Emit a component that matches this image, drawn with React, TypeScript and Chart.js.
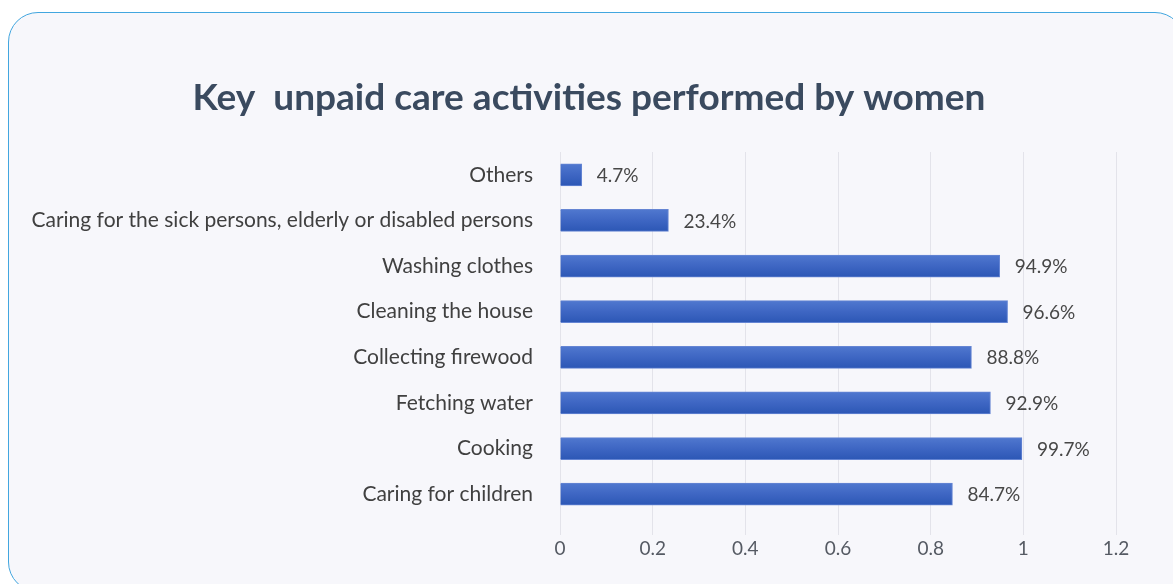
import React, { useEffect, useRef } from "react";
import { Chart, registerables } from "chart.js";

Chart.register(...registerables);

const TITLE = "Key  unpaid care activities performed by women";
const categories = [
  "Others",
  "Caring for the sick persons, elderly or disabled persons",
  "Washing clothes",
  "Cleaning the house",
  "Collecting firewood",
  "Fetching water",
  "Cooking",
  "Caring for children",
];
const values = [0.047, 0.234, 0.949, 0.966, 0.888, 0.929, 0.997, 0.847];
const xTicks = [0, 0.2, 0.4, 0.6, 0.8, 1, 1.2];

const FONT = "Lato, 'Open Sans', sans-serif";
const BAR_THICKNESS = 22;

const titlePlugin = {
  id: "centeredTitle",
  afterDraw(chart: any) {
    const ctx = chart.ctx;
    ctx.save();
    ctx.font = `bold 37px ${FONT}`;
    ctx.fillStyle = "#3a4a5f";
    ctx.textAlign = "center";
    ctx.textBaseline = "middle";
    ctx.fillText(TITLE, 589, 98);
    ctx.restore();
  },
};

const valueLabels = {
  id: "valueLabels",
  afterDatasetsDraw(chart: any) {
    const ctx = chart.ctx;
    const meta = chart.getDatasetMeta(0);
    ctx.save();
    ctx.font = `19px ${FONT}`;
    ctx.fillStyle = "#474747";
    ctx.textAlign = "left";
    ctx.textBaseline = "middle";
    meta.data.forEach((bar: any, i: number) => {
      const v = values[i];
      ctx.fillText((v * 100).toFixed(1) + "%", bar.x + 15, bar.y + 1);
    });
    ctx.restore();
  },
};

function barFill(c: any) {
  const chart = c.chart;
  const yScale = chart.scales && chart.scales.y;
  if (!yScale || c.dataIndex === undefined) return "#3e66c3";
  const y = yScale.getPixelForValue(c.dataIndex);
  if (!isFinite(y)) return "#3e66c3";
  const g = chart.ctx.createLinearGradient(
    0,
    y - BAR_THICKNESS / 2,
    0,
    y + BAR_THICKNESS / 2
  );
  g.addColorStop(0, "#5078cf");
  g.addColorStop(0.5, "#3e66c3");
  g.addColorStop(1, "#2c57b5");
  return g;
}

export default function App() {
  const ref = useRef<HTMLCanvasElement | null>(null);
  useEffect(() => {
    if (!ref.current) return;
    const chart = new Chart(ref.current, {
      type: "bar",
      data: {
        labels: categories,
        datasets: [
          {
            data: values,
            backgroundColor: barFill,
            borderColor: "#6585d3",
            borderWidth: 1,
            barThickness: BAR_THICKNESS,
          },
        ],
      },
      plugins: [valueLabels, titlePlugin],
      options: {
        indexAxis: "y",
        responsive: false,
        animation: false,
        devicePixelRatio: 1,
        layout: { padding: { left: 0, right: 57, top: 152, bottom: 0 } },
        plugins: {
          legend: { display: false },
          tooltip: { enabled: false },
          title: { display: false },
        },
        scales: {
          x: {
            min: 0,
            max: 1.2,
            afterBuildTicks(scale: any) {
              scale.ticks = xTicks.map((v) => ({ value: v }));
            },
            afterFit(scale: any) {
              scale.height = 67;
            },
            ticks: {
              color: "#555a63",
              font: { family: FONT, size: 19 },
              padding: 2,
              maxRotation: 0,
              callback: (v: any) => String(v),
            },
            grid: { color: "#e3e3ea", tickLength: 18, lineWidth: 1 },
            border: { display: false },
          },
          y: {
            afterFit(scale: any) {
              scale.width = 560;
            },
            ticks: {
              color: "#404040",
              font: { family: FONT, size: 21 },
              padding: 27,
            },
            grid: { display: false, drawTicks: false },
            border: { display: false },
          },
        },
      },
    });
    return () => chart.destroy();
  }, []);

  return (
    <div
      style={{
        position: "fixed",
        left: 0,
        top: 0,
        width: 1173,
        height: 584,
        overflow: "hidden",
        background: "#ffffff",
      }}
    >
      <div
        style={{
          position: "absolute",
          left: 8,
          top: 12,
          width: 1177,
          height: 580,
          boxSizing: "border-box",
          border: "1.5px solid #42a6df",
          borderRadius: 30,
          background: "#f7f7fb",
        }}
      />
      <canvas
        ref={ref}
        width={1173}
        height={584}
        style={{ position: "absolute", left: 0, top: 0, width: 1173, height: 584 }}
      />
    </div>
  );
}
